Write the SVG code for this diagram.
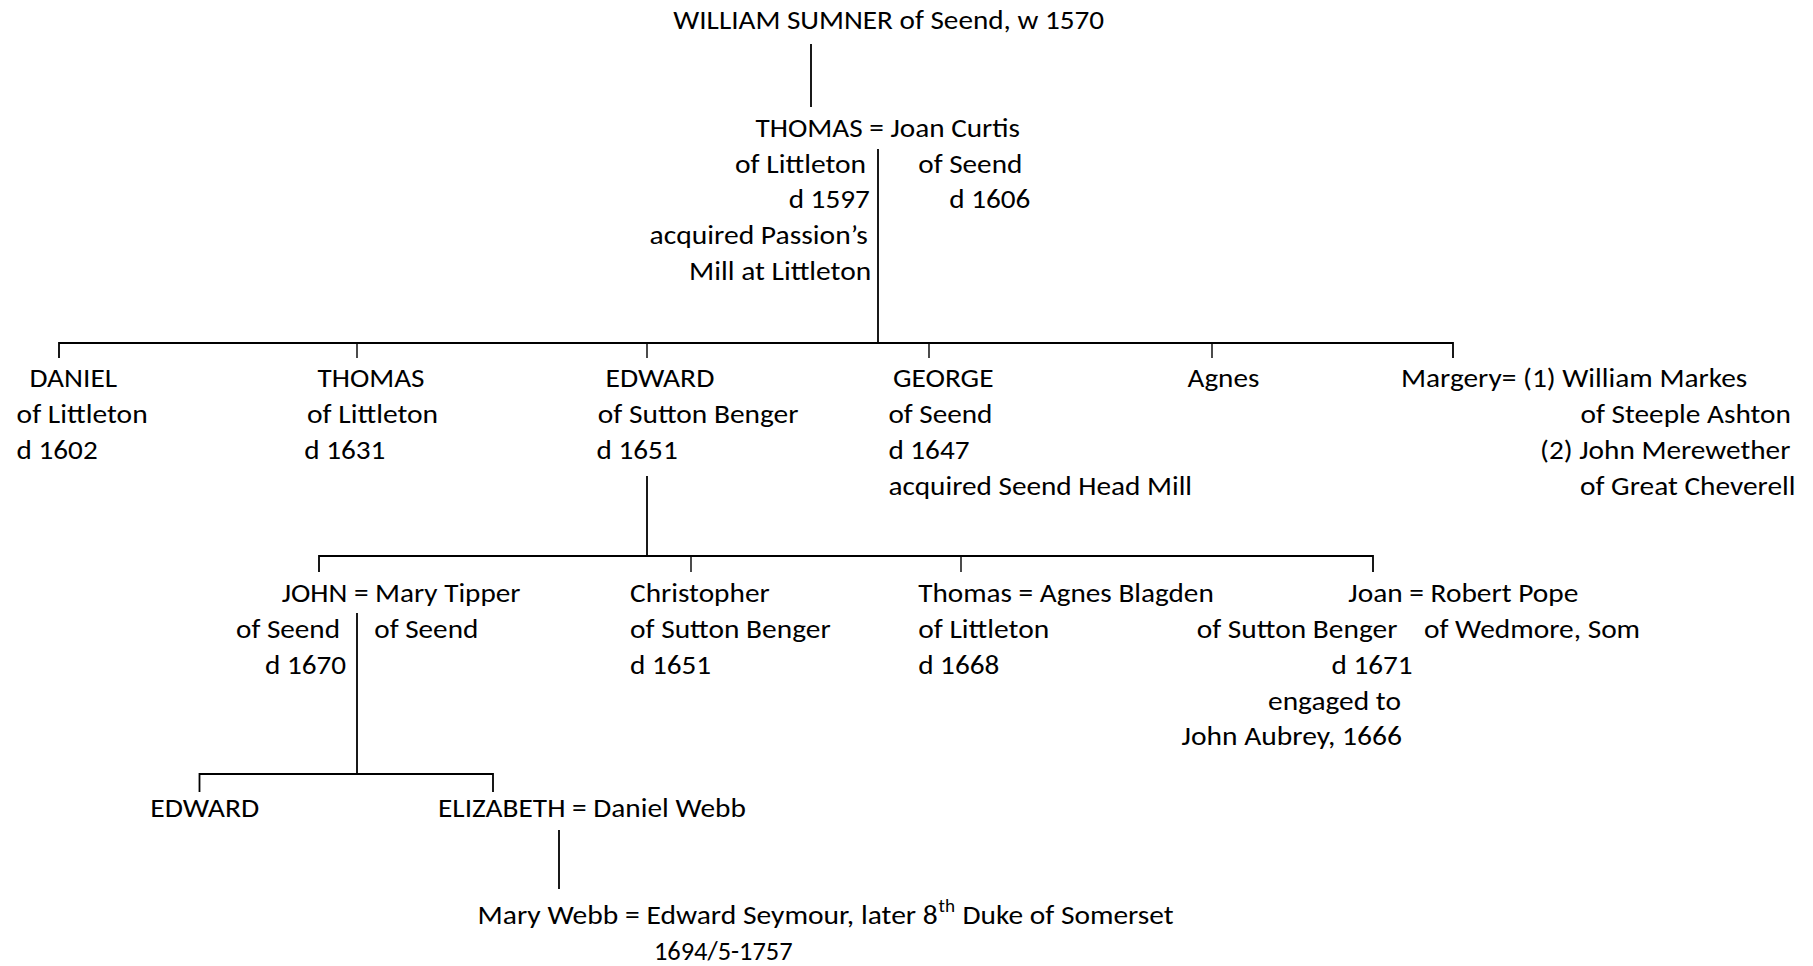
<svg xmlns="http://www.w3.org/2000/svg" width="1813" height="966" viewBox="0 0 1813 966">
  <style>
    text { font-family: Carlito, Calibri, Lato, "Liberation Sans", sans-serif; font-size: 26.4px; fill: #000; }
    .sup { font-size: 17.6px; }
    .ln { fill: none; stroke: #000; stroke-width: 1.8; }
    .tk { fill: none; stroke: #000; stroke-width: 1.4; }
  </style>
  <rect width="1813" height="966" fill="#fff"/>

  <!-- descent lines and sibling bars -->
  <g id="connectors">
    <path class="ln" d="M811 44 V107"/>
    <path class="ln" d="M878 149 V343"/>
    <path class="ln" d="M59 358 V343 H1453 V358"/>
    <path class="tk" d="M357 343 V358 M647 343 V358 M929 343 V358 M1212 343 V358"/>
    <path class="ln" d="M647 476 V556"/>
    <path class="ln" d="M319 572 V556 H1373 V572"/>
    <path class="tk" d="M691 556 V572 M961 556 V572"/>
    <path class="ln" d="M357 613 V774"/>
    <path class="ln" d="M199.5 792 V774 H493 V792"/>
    <path class="ln" d="M559 830 V889"/>
  </g>

  <g id="william-sumner">
    <text x="673.3" y="29.3" textLength="430.8" lengthAdjust="spacingAndGlyphs">WILLIAM SUMNER of Seend, w 1570</text>
  </g>

  <g id="thomas-joan-curtis">
    <text x="755.5" y="136.7" textLength="264.5" lengthAdjust="spacingAndGlyphs">THOMAS = Joan Curtis</text>
    <text x="735" y="172.5" textLength="131.1" lengthAdjust="spacingAndGlyphs">of Littleton</text>
    <text x="918.3" y="172.5" textLength="104" lengthAdjust="spacingAndGlyphs">of Seend</text>
    <text x="788.7" y="208.3" textLength="81.1" lengthAdjust="spacingAndGlyphs">d 1597</text>
    <text x="949.3" y="208.3" textLength="81.1" lengthAdjust="spacingAndGlyphs">d 1606</text>
    <text x="649.5" y="244.1" textLength="218.3" lengthAdjust="spacingAndGlyphs">acquired Passion’s</text>
    <text x="689" y="279.9" textLength="182.2" lengthAdjust="spacingAndGlyphs">Mill at Littleton</text>
  </g>

  <g id="daniel">
    <text x="29.5" y="387.3" textLength="87.6" lengthAdjust="spacingAndGlyphs">DANIEL</text>
    <text x="16.6" y="423.1" textLength="131.1" lengthAdjust="spacingAndGlyphs">of Littleton</text>
    <text x="16.6" y="458.9" textLength="81.1" lengthAdjust="spacingAndGlyphs">d 1602</text>
  </g>

  <g id="thomas-jr">
    <text x="317.5" y="387.3" textLength="107" lengthAdjust="spacingAndGlyphs">THOMAS</text>
    <text x="307" y="423.1" textLength="131.1" lengthAdjust="spacingAndGlyphs">of Littleton</text>
    <text x="304.3" y="458.9" textLength="81.1" lengthAdjust="spacingAndGlyphs">d 1631</text>
  </g>

  <g id="edward">
    <text x="605.5" y="387.3" textLength="108.9" lengthAdjust="spacingAndGlyphs">EDWARD</text>
    <text x="597.8" y="423.1" textLength="200.7" lengthAdjust="spacingAndGlyphs">of Sutton Benger</text>
    <text x="596.6" y="458.9" textLength="81.1" lengthAdjust="spacingAndGlyphs">d 1651</text>
  </g>

  <g id="george">
    <text x="893" y="387.3" textLength="100.5" lengthAdjust="spacingAndGlyphs">GEORGE</text>
    <text x="888.4" y="423.1" textLength="104" lengthAdjust="spacingAndGlyphs">of Seend</text>
    <text x="888.4" y="458.9" textLength="81.1" lengthAdjust="spacingAndGlyphs">d 1647</text>
    <text x="888.4" y="494.7" textLength="303.7" lengthAdjust="spacingAndGlyphs">acquired Seend Head Mill</text>
  </g>

  <g id="agnes">
    <text x="1187.5" y="387.3" textLength="71.9" lengthAdjust="spacingAndGlyphs">Agnes</text>
  </g>

  <g id="margery">
    <text x="1401" y="387.3" textLength="346.2" lengthAdjust="spacingAndGlyphs">Margery= (1) William Markes</text>
    <text x="1580.5" y="423.1" textLength="210.4" lengthAdjust="spacingAndGlyphs">of Steeple Ashton</text>
    <text x="1540" y="458.9" textLength="250.4" lengthAdjust="spacingAndGlyphs">(2) John Merewether</text>
    <text x="1580" y="494.7" textLength="215.6" lengthAdjust="spacingAndGlyphs">of Great Cheverell</text>
  </g>

  <g id="john-mary-tipper">
    <text x="281.7" y="602.1" textLength="238.8" lengthAdjust="spacingAndGlyphs">JOHN = Mary Tipper</text>
    <text x="236" y="637.9" textLength="104" lengthAdjust="spacingAndGlyphs">of Seend</text>
    <text x="374.3" y="637.9" textLength="104" lengthAdjust="spacingAndGlyphs">of Seend</text>
    <text x="265" y="673.7" textLength="81.1" lengthAdjust="spacingAndGlyphs">d 1670</text>
  </g>

  <g id="christopher">
    <text x="630" y="602.1" textLength="139.7" lengthAdjust="spacingAndGlyphs">Christopher</text>
    <text x="630" y="637.9" textLength="200.7" lengthAdjust="spacingAndGlyphs">of Sutton Benger</text>
    <text x="630" y="673.7" textLength="81.1" lengthAdjust="spacingAndGlyphs">d 1651</text>
  </g>

  <g id="thomas-agnes-blagden">
    <text x="918.2" y="602.1" textLength="295.6" lengthAdjust="spacingAndGlyphs">Thomas = Agnes Blagden</text>
    <text x="918.2" y="637.9" textLength="131.1" lengthAdjust="spacingAndGlyphs">of Littleton</text>
    <text x="918.2" y="673.7" textLength="81.1" lengthAdjust="spacingAndGlyphs">d 1668</text>
  </g>

  <g id="joan-robert-pope">
    <text x="1348.3" y="602.1" textLength="230" lengthAdjust="spacingAndGlyphs">Joan = Robert Pope</text>
    <text x="1196.7" y="637.9" textLength="200.7" lengthAdjust="spacingAndGlyphs">of Sutton Benger</text>
    <text x="1424" y="637.9" textLength="216.1" lengthAdjust="spacingAndGlyphs">of Wedmore, Som</text>
    <text x="1331.5" y="673.7" textLength="81.1" lengthAdjust="spacingAndGlyphs">d 1671</text>
    <text x="1268" y="709.5" textLength="132.9" lengthAdjust="spacingAndGlyphs">engaged to</text>
    <text x="1181.5" y="745.3" textLength="220.5" lengthAdjust="spacingAndGlyphs">John Aubrey, 1666</text>
  </g>

  <g id="edward-jr">
    <text x="150.3" y="816.9" textLength="108.9" lengthAdjust="spacingAndGlyphs">EDWARD</text>
  </g>

  <g id="elizabeth-daniel-webb">
    <text x="438" y="816.9" textLength="307.9" lengthAdjust="spacingAndGlyphs">ELIZABETH = Daniel Webb</text>
  </g>

  <g id="mary-webb-edward-seymour">
    <text x="477.5" y="924.3" textLength="460.3" lengthAdjust="spacingAndGlyphs">Mary Webb = Edward Seymour, later 8</text>
    <text class="sup" x="938.5" y="912" textLength="16.5" lengthAdjust="spacingAndGlyphs">th</text>
    <text x="962.5" y="924.3" textLength="211.1" lengthAdjust="spacingAndGlyphs">Duke of Somerset</text>
    <text x="654" y="960.1" textLength="138.6" lengthAdjust="spacingAndGlyphs">1694/5-1757</text>
  </g>
</svg>
